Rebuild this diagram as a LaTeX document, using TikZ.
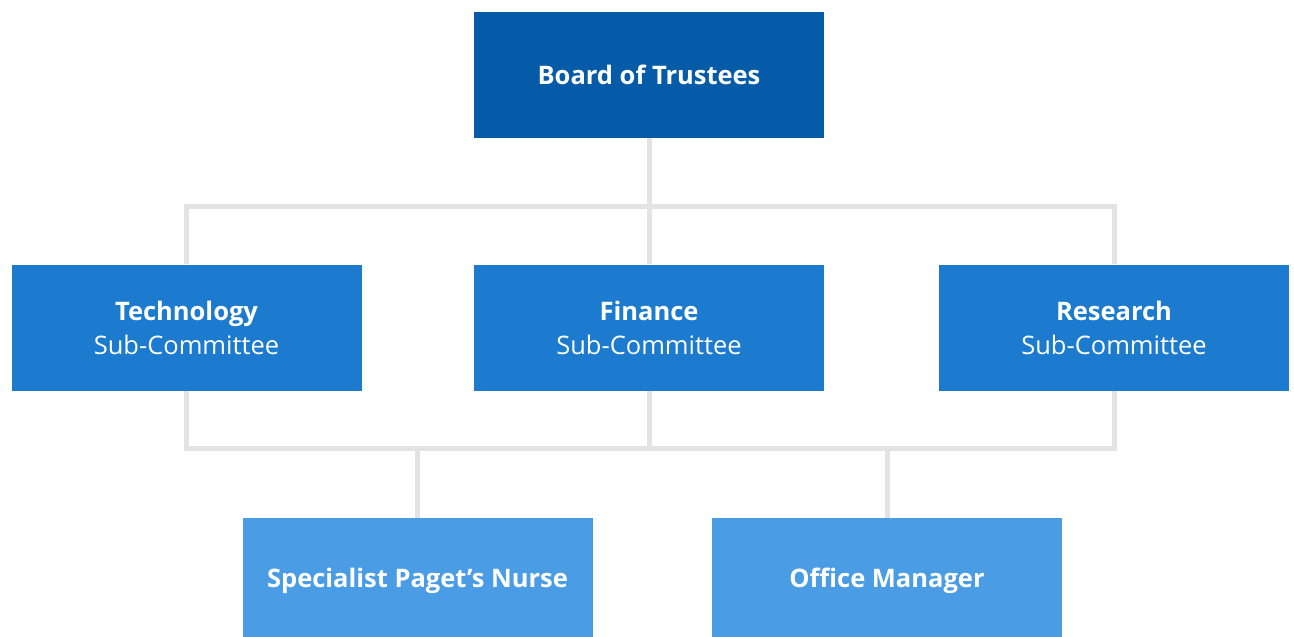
\documentclass[tikz,border=0pt]{standalone}
\usepackage{fontspec}
\setmainfont{Open Sans}
\definecolor{boardblue}{HTML}{055BA8}
\definecolor{midblue}{HTML}{1C7BCF}
\definecolor{lightblue}{HTML}{4A9DE5}
\definecolor{linkgray}{HTML}{E3E3E3}
\begin{document}
\begin{tikzpicture}[x=1pt,y=-1pt,
  orgbox/.style={rectangle, minimum width=350pt, minimum height=126pt,
    inner sep=0pt, align=center, text=white,
    font=\fontsize{25.5}{34}\selectfont},
  link/.style={draw=linkgray, line width=5pt, line join=miter}]
\useasboundingbox (0,0) rectangle (1294,637);
\clip (0,0) rectangle (1294,637);

% boxes
\node[orgbox, fill=boardblue] (board) at (649,75) {\bfseries Board of Trustees};
\node[orgbox, fill=midblue] (tech) at (186.5,327.5) {\bfseries Technology\\Sub-Committee};
\node[orgbox, fill=midblue] (fin) at (649,327.5) {\bfseries Finance\\Sub-Committee};
\node[orgbox, fill=midblue] (res) at (1114,327.5) {\bfseries Research\\Sub-Committee};
\node[orgbox, fill=lightblue] (nurse) at (417.5,581) {\bfseries Specialist Paget’s Nurse};
\node[orgbox, fill=lightblue] (office) at (887,581) {\bfseries Office Manager};

% bus lines
\coordinate (busT) at (649,206);
\coordinate (busB) at (649,448);

\draw[link] (board.south) -- (fin.north);
\draw[link] (tech.north) |- (busT) -| (res.north);
\draw[link] (tech.south) |- (busB) -| (res.south);
\draw[link] (fin.south) -- (busB);
\draw[link] (nurse.north |- busB) -- (nurse.north);
\draw[link] (office.north |- busB) -- (office.north);
\end{tikzpicture}
\end{document}
